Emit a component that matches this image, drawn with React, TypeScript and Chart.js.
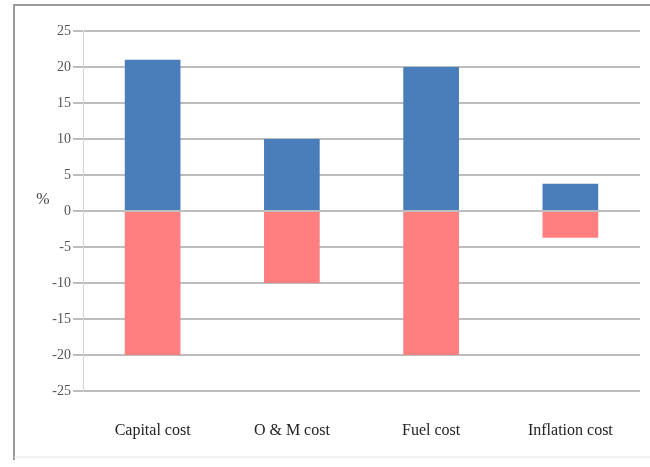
import React, { useEffect, useRef } from "react";
import { Chart, registerables } from "chart.js";

Chart.register(...registerables);

const categories = ["Capital cost", "O & M cost", "Fuel cost", "Inflation cost"];
const positiveValues = [21, 10, 20, 3.8];
const negativeValues = [-20, -10, -20, -3.7];
const yMin = -25;
const yMax = 25;
const yStep = 5;
const yTitle = "%";

const framePlugin = {
  id: "frame",
  beforeDraw(chart: any) {
    const ctx = chart.ctx;
    ctx.save();
    ctx.fillStyle = "#ffffff";
    ctx.fillRect(0, 0, chart.width, chart.height);
    ctx.strokeStyle = "#9a9a9a";
    ctx.lineWidth = 2;
    ctx.beginPath();
    ctx.moveTo(14, 460);
    ctx.lineTo(14, 5);
    ctx.lineTo(chart.width, 5);
    ctx.stroke();
    ctx.strokeStyle = "#e4e4e4";
    ctx.lineWidth = 1;
    ctx.beginPath();
    ctx.moveTo(14, 457);
    ctx.lineTo(chart.width, 457);
    ctx.stroke();
    ctx.restore();
  },
  afterDraw(chart: any) {
    const ctx = chart.ctx;
    const y = chart.scales.y;
    ctx.save();
    ctx.fillStyle = "#444";
    ctx.font = "16px Liberation Serif";
    ctx.textAlign = "center";
    ctx.textBaseline = "middle";
    ctx.fillText(yTitle, 43, y.getPixelForValue(1.5));
    ctx.restore();
  },
};

export default function App() {
  const ref = useRef<HTMLCanvasElement>(null);
  useEffect(() => {
    const chart = new Chart(ref.current!, {
      type: "bar",
      data: {
        labels: categories,
        datasets: [
          { label: "pos", data: positiveValues, backgroundColor: "#4A7EBB", barPercentage: 0.5, categoryPercentage: 0.8 },
          { label: "neg", data: negativeValues, backgroundColor: "#FF7F80", barPercentage: 0.5, categoryPercentage: 0.8 },
        ],
      },
      options: {
        animation: false,
        responsive: false,
        layout: { padding: { left: 0, right: 10, top: 31, bottom: 0 } },
        plugins: { legend: { display: false }, tooltip: { enabled: false } },
        scales: {
          x: {
            stacked: true,
            grid: { display: false, drawTicks: false },
            border: { display: false },
            ticks: { color: "#222", font: { family: "Liberation Serif", size: 16 }, padding: 30 },
            afterFit: (s: any) => { s.height = 76; },
          },
          y: {
            stacked: true,
            min: yMin,
            max: yMax,
            ticks: { stepSize: yStep, color: "#555", font: { family: "Liberation Serif", size: 14 }, padding: 2 },
            grid: { color: "#bdbdbd", lineWidth: 2, tickLength: 10 },
            border: { display: true, color: "#d4d4d4", width: 1 },
            afterFit: (s: any) => { s.width = 83; },
          },
        },
      },
      plugins: [framePlugin],
    });
    return () => chart.destroy();
  }, []);
  return (
    <div style={{ position: "fixed", left: 0, top: 0, width: 650, height: 467 }}>
      <canvas ref={ref} width={650} height={467} />
    </div>
  );
}
